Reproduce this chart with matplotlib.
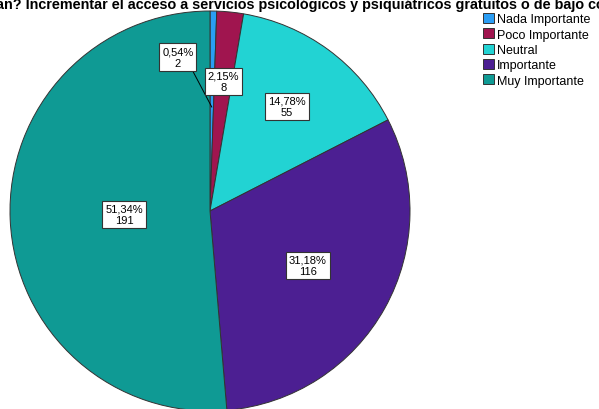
import matplotlib.pyplot as plt
import numpy as np

plt.rcParams['font.family'] = ['Liberation Sans', 'DejaVu Sans']

categories = ['Nada Importante', 'Poco Importante', 'Neutral', 'Importante', 'Muy Importante']
counts = [2, 8, 55, 116, 191]
colors = ['#2a9df4', '#a0154f', '#22d3d3', '#4c1f92', '#0f9a94']
title = ('an? Incrementar el acceso a servicios psicológicos y psiquiátricos '
         'gratuitos o de bajo costo')

W, H = 599, 410
fig = plt.figure(figsize=(W / 100, H / 100), dpi=100)
ax = fig.add_axes([0, 0, 1, 1])

cx, cy, r = 210, H - 212, 200
wedges, _ = ax.pie(counts, colors=colors, startangle=90, counterclock=False,
                   center=(cx, cy), radius=r, frame=True,
                   wedgeprops=dict(edgecolor='#333333', linewidth=0.7))
ax.set_xlim(0, W)
ax.set_ylim(0, H)
ax.set_aspect('equal')
ax.axis('off')

total = sum(counts)
# label distance as a fraction of the radius (SPSS placement)
label_r = [0.52, 0.65, 0.65, 0.56, 0.43]
start = 90.0
for i, c in enumerate(counts):
    sweep = 360.0 * c / total
    mid = np.radians(start - sweep / 2)
    start -= sweep
    pct = f'{100 * c / total:.2f}'.replace('.', ',') + '%'
    txt = f'{pct}\n{c}'
    px = cx + label_r[i] * r * np.cos(mid)
    py = cy + label_r[i] * r * np.sin(mid)
    bbox = dict(boxstyle='square,pad=0.25', fc='white', ec='#333333', lw=0.8)
    if i == 0:
        # small slice: label pulled out with a leader line
        tx, ty = px - 34, py + 50
        ax.plot([px, tx + 15], [py, ty - 14], color='black', lw=0.7)
        px, py = tx, ty
    ax.text(px, py, txt, ha='center', va='center', fontsize=8,
            linespacing=1.2, bbox=bbox)

fig.text(-4 / W, 1 - 5 / H, title, ha='left', va='center', fontsize=10.4,
         fontweight='bold')

ax.legend(wedges, categories, loc='upper left', bbox_to_anchor=(483 / W, 1 - 14 / H),
          frameon=False, fontsize=9, handlelength=0.85, handleheight=0.85,
          handletextpad=0.25, labelspacing=0.24, borderaxespad=0, borderpad=0)

fig.savefig('out.png', dpi=100)
